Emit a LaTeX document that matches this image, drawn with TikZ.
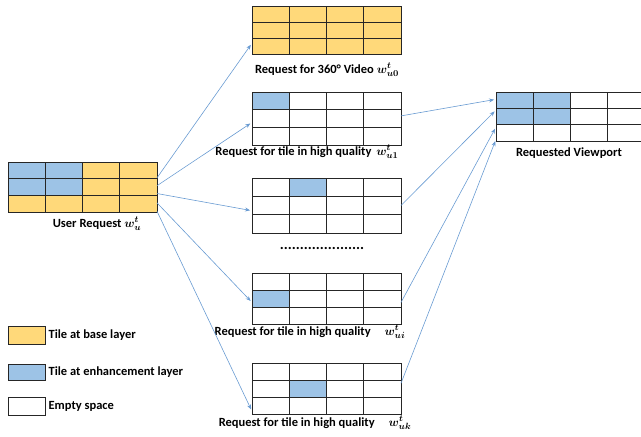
\documentclass[tikz,border=0pt]{standalone}
\usepackage[no-math]{fontspec}
\setmainfont{Carlito}
\usepackage{tikz}
\usetikzlibrary{arrows.meta, positioning}

\definecolor{baseclr}{HTML}{FFD97A}
\definecolor{enhclr}{HTML}{9DC3E6}
\definecolor{arrowclr}{RGB}{105,155,210}

\tikzset{
  cell/.style={draw=black!85, line width=0.8pt},
  gridbox/.style={minimum width=149pt, inner sep=0pt, outer sep=0pt},
  lbl/.style={font=\fontsize{12.5}{14}\selectfont\bfseries\boldmath, inner sep=1pt},
  req/.style={draw=arrowclr, line width=0.6pt, -{Stealth[length=5pt,width=4pt]}, shorten >=2pt},
  legbox/.style={draw=black!85, line width=0.8pt, minimum width=37pt, minimum height=18pt, inner sep=0pt}
}

% 4x3 tiles: name, left, top, height, base colour, other cells col/row/colour
\newcommand{\tilegrid}[6]{%
  \node[gridbox, minimum height=#4pt] (#1) at (#2+74.5,#3+#4/2) {};
  \foreach \cx in {0,...,3}
    \foreach \ry in {0,1,2}
      \draw[cell, fill=#5] (#2+\cx*37.25,#3+\ry*#4/3) rectangle ++(37.25,#4/3);
  \foreach \cx/\ry/\col in {#6}
    \draw[cell, fill=\col] (#2+\cx*37.25,#3+\ry*#4/3) rectangle ++(37.25,#4/3);
}

\begin{document}
\begin{tikzpicture}[x=1pt, y=-1pt]
\useasboundingbox (0,0) rectangle (641,437);
% grids
\tilegrid{user}{8}{162}{50}{baseclr}{0/0/enhclr, 1/0/enhclr, 0/1/enhclr, 1/1/enhclr}
\tilegrid{v0}{252}{6}{48}{baseclr}{0/0/baseclr}
\tilegrid{t1}{252}{92}{53}{white}{0/0/enhclr}
\tilegrid{t2}{252}{178}{55}{white}{1/0/enhclr}
\tilegrid{ti}{252}{273}{51}{white}{0/1/enhclr}
\tilegrid{tk}{252}{363}{51}{white}{1/1/enhclr}
\tilegrid{vp}{496}{92}{49}{white}{0/0/enhclr, 1/0/enhclr, 0/1/enhclr, 1/1/enhclr}

% labels
\node[lbl] (userlbl) at (97,224) {User Request $w_u^t$};
\node[lbl] (v0lbl) at (327,70) {Request for 360° Video $w_{u0}^t$};
\node[lbl] (t1lbl) at (307,152) {Request for tile in high quality\hspace{5pt}$w_{u1}^t$};
\node[lbl, font=\fontsize{15}{16}\selectfont\bfseries] (dots) at (322,248) {.....................};
\node[lbl] (tilbl) at (310,332) {Request for tile in high quality\hspace{14pt}$w_{ui}^t$};
\node[lbl] (tklbl) at (315,423) {Request for tile in high quality\hspace{14pt}$w_{uk}^t$};
\node[lbl] (vplbl) at (569,153) {Requested Viewport};

% legend
\node[legbox, fill=baseclr] (legbase) at (26.5,335) {};
\node[lbl, right=2pt of legbase] (legbasetxt) {Tile at base layer};
\node[legbox, fill=enhclr, minimum height=16pt] (legenh) at (26.5,372) {};
\node[lbl, right=2pt of legenh] (legenhtxt) {Tile at enhancement layer};
\node[legbox, fill=white] (legempty) at (26.5,406) {};
\node[lbl, right=2pt of legempty] (legemptytxt) {Empty space};

% requests
\draw[req] (user.7) -- (v0.190);
\draw[req] (user.1) -- (t1.183);
\draw[req] (user.-5) -- (t2.184);
\draw[req] (user.-12) -- (ti.183);
\draw[req] (user.-18) -- (tk.197);
\draw[req] (t1.2) -- (vp.167);
\draw[req] (t2.east) -- (vp.175);
\draw[req] (ti.357) -- (vp.188);
\draw[req] (tk.4) -- (vp.197);
\end{tikzpicture}
\end{document}
